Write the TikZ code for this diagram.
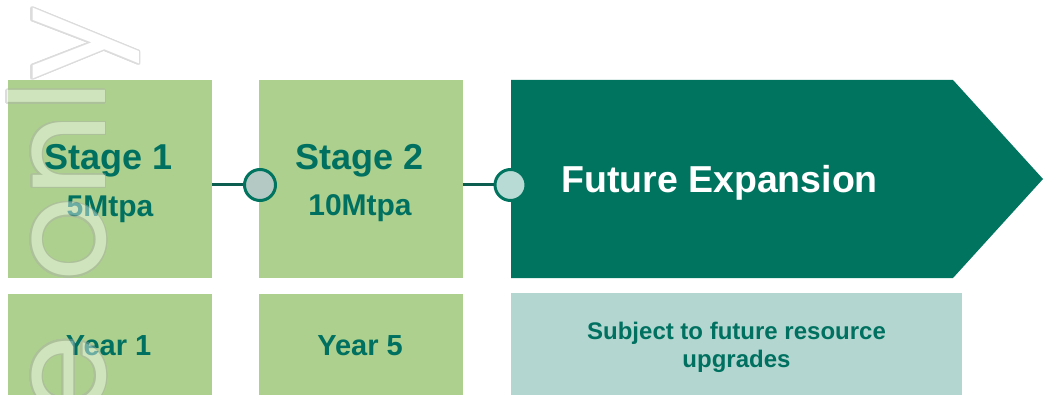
\documentclass[tikz,border=0pt]{standalone}
\usepackage{fontspec}
\setmainfont{Liberation Sans}
\newfontfamily\wmfont{Poppins}
\usepackage{contour}
\contourlength{1.3pt}
\contournumber{32}
\definecolor{lgreen}{HTML}{AED08E}
\definecolor{tealdk}{HTML}{00745F}
\definecolor{tealtxt}{HTML}{007060}
\definecolor{linedk}{HTML}{0B5E50}
\definecolor{circA}{HTML}{B4C8C4}
\definecolor{circB}{HTML}{B8DCD5}
\definecolor{paleteal}{HTML}{B3D7D0}
\definecolor{wmgray}{HTML}{ABABAB}
\begin{document}
\begin{tikzpicture}[x=1pt,y=-1pt,
  greenbox/.style={fill=lgreen,draw=none,inner sep=0,minimum width=204pt},
  bigtxt/.style={font=\bfseries\fontsize{36}{40}\selectfont,text=tealtxt,anchor=base,inner sep=0},
  midtxt/.style={font=\bfseries\fontsize{30}{34}\selectfont,text=tealtxt,anchor=base,inner sep=0},
  yeartxt/.style={font=\bfseries\fontsize{29}{33}\selectfont,text=tealtxt,anchor=base,inner sep=0},
  dot/.style={circle,draw=tealdk,line width=3pt,minimum size=31pt,inner sep=0},
  link/.style={draw=linedk,line width=3pt}]
\useasboundingbox (0,0) rectangle (1043,395);
\clip (0,0) rectangle (1043,395);
% boxes
\node[greenbox,minimum height=198pt] (s1) at (110,179) {};
\node[greenbox,minimum height=101pt] (y1) at (110,344.5) {};
\node[greenbox,minimum height=198pt] (s2) at (361,179) {};
\node[greenbox,minimum height=101pt] (y5) at (361,344.5) {};
% arrow
\fill[tealdk] (511,80) -- (953,80) -- (1043,179) -- (953,278) -- (511,278) -- cycle;
\coordinate (fe) at (511,184);
\node[fill=paleteal,inner sep=0,minimum width=451pt,minimum height=102pt] (sub) at (736.5,344) {};
% texts
\node[bigtxt] at (109,170) {Stage 1};
\node[midtxt] at (110,217) {5Mtpa};
\node[yeartxt] at (108.5,355) {Year 1};
\node[bigtxt] at (360,170) {Stage 2};
\node[midtxt] at (360,216) {10Mtpa};
\node[yeartxt] at (360,355) {Year 5};
\node[font=\bfseries\fontsize{37.5}{40}\selectfont,text=white,anchor=base west,inner sep=0] (fetxt) at (561,193) {Future Expansion};
\node[font=\bfseries\fontsize{24}{28}\selectfont,text=tealtxt,align=center,anchor=base,inner sep=0] at (736.5,367) {Subject to future resource\\upgrades};
% connectors
\node[dot,fill=circA] (c1) at (260,185) {};
\node[dot,fill=circB] (c2) at (510.5,185) {};
\draw[link] (c1 -| s1.east) -- (c1.west);
\draw[link] (c2 -| s2.east) -- (c2.west);
% watermark
\begin{scope}[transparency group,opacity=0.42]
\node[rotate=90,anchor=base east,inner sep=0,text=white,font=\wmfont\fontsize{132}{132}\selectfont] (wm) at (105,6)
  {\contour{wmgray}{e}\kern18pt\contour{wmgray}{ only}};
\end{scope}
\end{tikzpicture}
\end{document}
